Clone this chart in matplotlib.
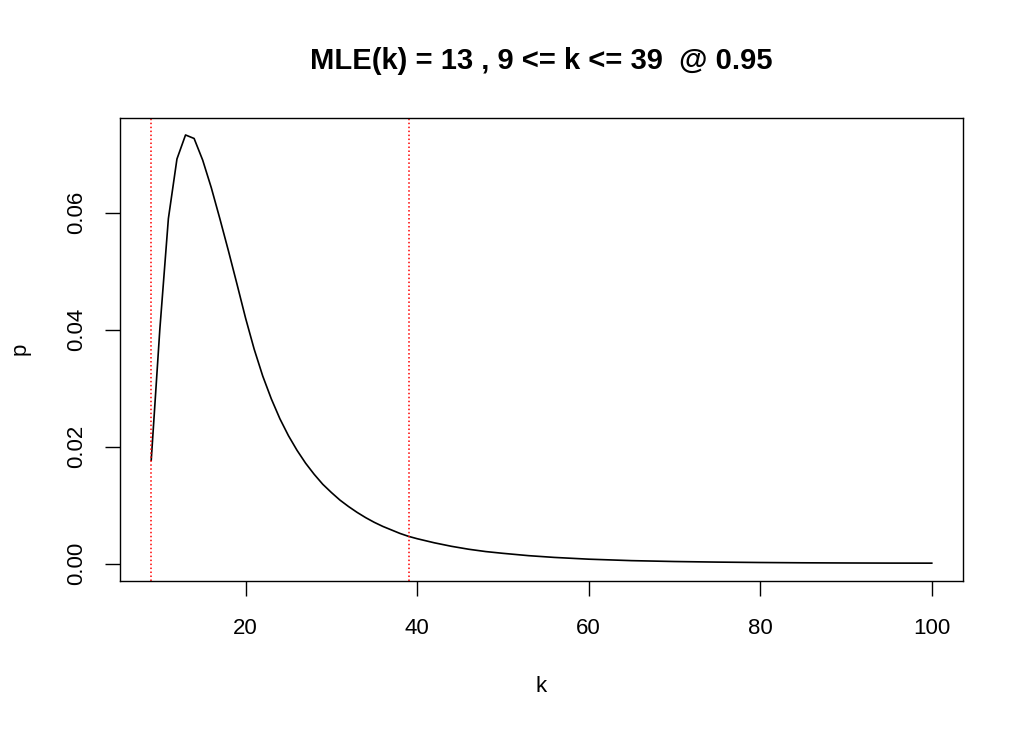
import matplotlib
matplotlib.use("Agg")
import matplotlib.pyplot as plt

plt.rcParams['font.family'] = ['Liberation Sans', 'DejaVu Sans']

k_vals = [9, 10, 11, 12, 13, 14, 15, 16, 17, 18, 19, 20, 21, 22, 23, 24, 25, 26,
          27, 28, 29, 30, 31, 32, 33, 34, 35, 36, 37, 38, 39, 40, 42, 44, 46, 48,
          50, 53, 56, 60, 65, 70, 75, 80, 85, 90, 95, 100]
p_vals = [0.0177, 0.0400, 0.0590, 0.0692, 0.0733, 0.0727, 0.0690, 0.0643, 0.0590,
          0.0535, 0.0478, 0.0420, 0.0367, 0.0321, 0.0282, 0.0248, 0.0219, 0.0194,
          0.0172, 0.0153, 0.0136, 0.0122, 0.0109, 0.0098, 0.0088, 0.0079, 0.0071,
          0.0064, 0.0058, 0.0052, 0.0047, 0.0043, 0.0036, 0.0030, 0.0025, 0.0021,
          0.0018, 0.0014, 0.0011, 0.00080, 0.00055, 0.00040, 0.00030, 0.00023,
          0.00018, 0.00015, 0.00013, 0.00012]
ci_bounds = [9, 39]
x_ticks = [20, 40, 60, 80, 100]
y_ticks = [0.00, 0.02, 0.04, 0.06]
y_tick_labels = ["0.00", "0.02", "0.04", "0.06"]
title_text = "MLE(k) = 13 , 9 <= k <= 39  @ 0.95"

W, H = 1024, 731
fig = plt.figure(figsize=(W/100, H/100), dpi=100)
ax = fig.add_axes([120/W, 1-581/H, (963-120)/W, (581-118)/H])

ax.plot(k_vals, p_vals, color='black', lw=1.2)
for b in ci_bounds:
    ax.axvline(b, color='red', ls=(0, (1, 1.6)), lw=1.1)

ax.set_xlim(5.36, 103.64)
ax.set_ylim(-0.00293, 0.0762)
ax.set_xticks(x_ticks)
ax.set_xticklabels([str(t) for t in x_ticks], fontsize=16)
ax.set_yticks(y_ticks)
ax.set_yticklabels(y_tick_labels, fontsize=16, rotation=90, va='center')
ax.tick_params(direction='out', length=10.5, width=1)
ax.tick_params(axis='x', pad=16.5)
ax.tick_params(axis='y', pad=13)
for s in ax.spines.values():
    s.set_linewidth(1)

fig.text(541/W, 1-686/H, "k", fontsize=16, ha='center', va='center')
fig.text(20/W, 1-349/H, "p", fontsize=16, ha='center', va='center', rotation=90)
fig.text(541/W, 1-61/H, title_text, fontsize=21, fontweight='bold',
         ha='center', va='center')

fig.savefig("out.png", dpi=100)
